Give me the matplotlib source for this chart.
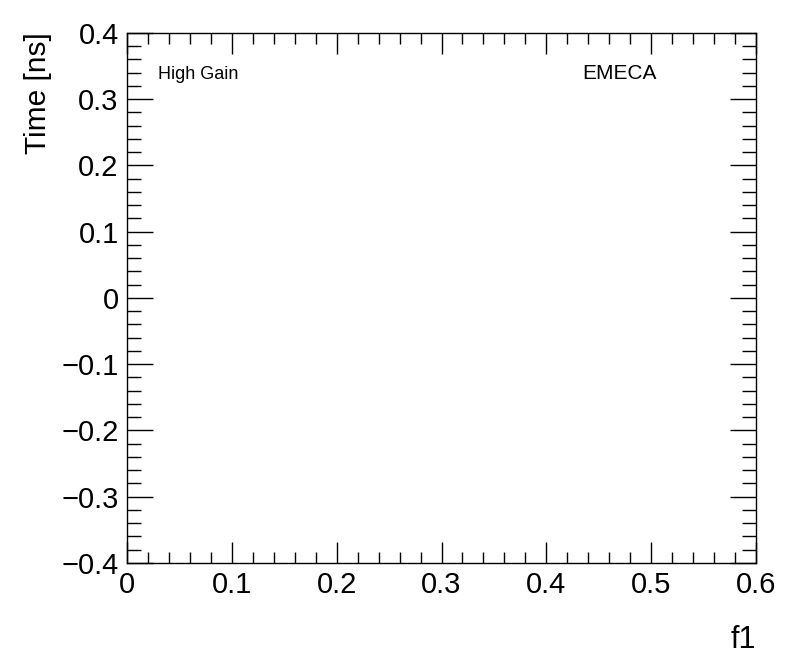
import matplotlib.pyplot as plt
import numpy as np
from matplotlib.ticker import MultipleLocator

# empty canvas: axis ranges and labels only
x_range = [0.0, 0.6]
y_range = [-0.4, 0.4]
x_title = "f1"
y_title = "Time [ns]"
gain_label = "High Gain"
region_label = "EMECA"

plt.rcParams['font.family'] = ['Liberation Sans', 'DejaVu Sans']

fig = plt.figure(figsize=(7.96, 6.72), dpi=100)
ax = fig.add_axes([0.1596, 0.1622, 0.9497 - 0.1596, 0.951 - 0.1622])

ax.set_xlim(x_range)
ax.set_ylim(y_range)

ax.xaxis.set_major_locator(MultipleLocator(0.1))
ax.xaxis.set_minor_locator(MultipleLocator(0.02))
ax.yaxis.set_major_locator(MultipleLocator(0.1))
ax.yaxis.set_minor_locator(MultipleLocator(0.02))

ax.tick_params(which='both', direction='in', top=True, right=True, width=1.0, labelsize=21)
ax.tick_params(axis='x', which='major', length=15, pad=6)
ax.tick_params(axis='x', which='minor', length=8)
ax.tick_params(axis='y', which='major', length=19, pad=6)
ax.tick_params(axis='y', which='minor', length=10)
ax.xaxis.set_major_formatter(plt.FuncFormatter(lambda v, p: f"{v:g}"))
ax.yaxis.set_major_formatter(plt.FuncFormatter(lambda v, p: ("\u2212" if v < -1e-9 else "") + f"{abs(v):g}" if abs(v) > 1e-9 else "0"))

for s in ax.spines.values():
    s.set_linewidth(1.0)

ax.text(0.05, 0.922, gain_label, transform=ax.transAxes, fontsize=13, va='center', ha='left')
ax.text(0.723, 0.924, region_label, transform=ax.transAxes, fontsize=15, va='center', ha='left')

fig.text(0.9497, 1 - 640 / 672, x_title, fontsize=22, ha='right', va='center')
fig.text(38 / 796, 1 - 32 / 672, y_title, fontsize=21.5, ha='center', va='top', rotation=90)

fig.savefig("out.png", dpi=100)
